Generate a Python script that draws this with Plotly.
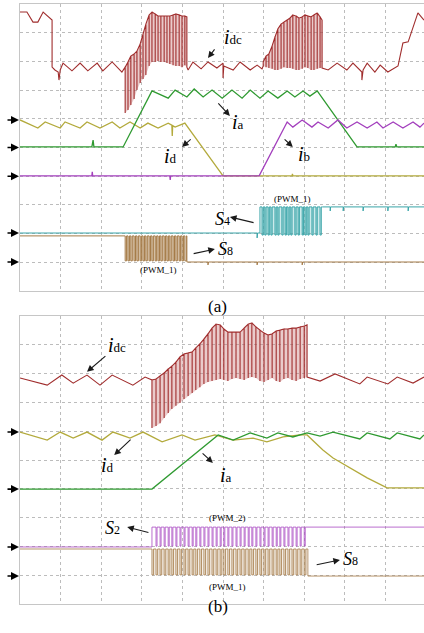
import plotly.graph_objects as go

SERIF = "Liberation Serif"
GRID = "#bcbcbc"
FRAME = "#c6c6c6"
C_DC = "#a02d2d"
C_DC_FILL = "rgba(200,118,118,0.38)"
C_A = "#2f9a31"
C_D = "#b3aa3c"
C_B = "#a33fbd"
C_S4 = "#38a4a8"
C_S4_FILL = "rgba(90,185,188,0.30)"
C_S8 = "#a47a46"
C_S8_FILL = "rgba(180,140,90,0.30)"
C_S8_FILL_B = "rgba(190,155,110,0.18)"
C_S2 = "#a848c2"

# all values in scope divisions (10 x 10 graticule)

# ---------------- panel (a) ----------------
idc_a_x0 = [0.00, 0.17, 0.32, 0.44, 0.57, 0.74, 0.79, 0.79, 0.86, 0.94, 0.96, 0.99, 1.06, 1.28, 1.48, 1.67, 1.90, 2.04, 2.27, 2.51, 2.56]
idc_a_y0 = [9.72, 9.72, 9.37, 9.37, 9.72, 9.51, 9.44, 7.80, 7.70, 7.63, 7.35, 7.70, 7.94, 7.67, 7.94, 7.67, 7.94, 7.67, 7.98, 7.63, 7.74]
burst1_t = [2.59, 2.66, 2.73, 2.81, 2.88, 2.96, 3.03, 3.10, 3.18, 3.25, 3.33, 3.40, 3.47, 3.55, 3.62, 3.69, 3.77, 3.84, 3.92, 3.99, 4.06, 4.11]
burst1_top = [7.80, 7.98, 8.19, 8.26, 8.36, 8.61, 8.95, 9.30, 9.62, 9.72, 9.65, 9.58, 9.58, 9.58, 9.58, 9.58, 9.62, 9.65, 9.62, 9.58, 9.58, 9.55]
burst1_bot = [6.20, 6.31, 6.48, 6.69, 7.00, 7.25, 7.39, 7.53, 7.84, 7.98, 7.98, 8.01, 7.98, 7.98, 7.94, 7.91, 7.87, 7.84, 7.84, 7.80, 7.87, 7.80]
idc_a_x1 = [4.11, 4.14, 4.26, 4.46, 4.63, 4.85, 5.00, 5.00, 5.02, 5.25, 5.42, 5.67, 5.84, 5.96, 5.99]
idc_a_y1 = [7.80, 7.70, 7.98, 7.74, 7.98, 7.77, 7.94, 7.42, 7.84, 7.70, 7.98, 7.70, 7.87, 7.74, 7.84]
burst2_t = [5.99, 6.06, 6.13, 6.21, 6.28, 6.35, 6.43, 6.50, 6.58, 6.65, 6.72, 6.80, 6.87, 6.95, 7.02, 7.09, 7.17, 7.24, 7.32, 7.39, 7.44]
burst2_top = [7.98, 8.19, 8.26, 8.54, 8.85, 9.13, 9.30, 9.37, 9.44, 9.51, 9.62, 9.58, 9.51, 9.55, 9.62, 9.58, 9.55, 9.62, 9.69, 9.55, 9.44]
burst2_bot = [7.84, 7.80, 7.77, 7.74, 7.70, 7.70, 7.74, 7.80, 7.77, 7.77, 7.74, 7.70, 7.70, 7.74, 7.80, 7.77, 7.70, 7.70, 7.74, 7.77, 7.77]
idc_a_x2 = [7.44, 7.59, 7.81, 8.05, 8.20, 8.42, 8.42, 8.45, 8.55, 8.74, 8.87, 9.06, 9.24, 9.31, 9.43, 9.56, 9.80, 9.95]
idc_a_y2 = [7.77, 7.70, 7.94, 7.70, 7.94, 7.63, 7.35, 7.70, 7.94, 7.63, 7.87, 7.63, 7.80, 7.84, 8.64, 8.68, 9.69, 9.44]

ia_a_x = [0.00, 1.77, 1.80, 1.82, 2.54, 3.25, 3.65, 3.82, 4.11, 4.29, 4.51, 4.73, 4.98, 5.22, 5.47, 5.67, 5.91, 6.11, 6.35, 6.58, 6.77, 6.97, 7.14, 7.32, 8.30, 9.24, 9.26, 9.28, 9.95]
ia_a_y = [5.02, 5.02, 5.26, 5.02, 5.02, 6.97, 6.72, 7.00, 6.76, 7.04, 6.76, 7.00, 6.72, 7.00, 6.72, 7.00, 6.72, 6.97, 6.72, 6.97, 6.76, 6.97, 6.79, 6.97, 5.02, 5.02, 5.12, 5.02, 5.02]

id_a_x = [0.00, 0.44, 0.62, 0.99, 1.11, 1.48, 1.65, 1.97, 2.27, 2.46, 2.71, 2.96, 3.15, 3.40, 3.65, 3.74, 3.75, 3.76, 3.82, 4.06, 5.00, 6.70, 6.71, 6.72, 9.95]
id_a_y = [5.96, 5.68, 5.89, 5.68, 5.89, 5.68, 5.89, 5.68, 5.89, 5.68, 5.89, 5.68, 5.85, 5.68, 5.85, 5.78, 5.40, 5.76, 5.71, 5.85, 4.01, 4.01, 4.08, 4.01, 4.01]

ib_a_x = [0.00, 1.77, 1.78, 1.79, 3.69, 3.70, 3.71, 5.89, 6.58, 6.72, 6.95, 7.19, 7.34, 7.59, 7.83, 8.05, 8.30, 8.55, 8.79, 8.94, 9.19, 9.43, 9.68, 9.85, 9.95]
ib_a_y = [4.01, 4.01, 4.15, 4.01, 4.01, 3.87, 4.01, 4.01, 5.89, 5.71, 5.96, 5.71, 5.89, 5.68, 5.96, 5.68, 5.89, 5.68, 5.89, 5.68, 5.89, 5.68, 5.89, 5.71, 5.85]

s4_a_pre_x = [0.00, 5.84, 5.84, 5.85, 5.91, 5.91]
s4_a_pre_y = [2.02, 2.02, 1.85, 2.02, 2.02, 2.93]
s4_a_t = [5.96, 6.03, 6.11, 6.18, 6.28, 6.35, 6.45, 6.53, 6.60, 6.67, 6.77, 6.85, 6.95, 7.02, 7.09, 7.19, 7.29, 7.39]
s4_a_hi, s4_a_lo = 2.93, 1.95
s4_a_post_x = [7.45, 7.64, 7.64, 7.65, 7.96, 7.96, 7.97, 8.45, 8.45, 8.46, 9.06, 9.06, 9.07, 9.56, 9.56, 9.57, 9.95]
s4_a_post_y = [2.93, 2.93, 2.79, 2.93, 2.93, 2.79, 2.93, 2.93, 2.79, 2.93, 2.93, 2.79, 2.93, 2.93, 2.79, 2.93, 2.93]

s8_a_pre_x = [0.00, 2.59]
s8_a_pre_y = [1.92, 1.92]
s8_a_t = [2.59, 2.66, 2.73, 2.81, 2.88, 2.96, 3.03, 3.10, 3.18, 3.25, 3.33, 3.40, 3.47, 3.55, 3.62, 3.69, 3.77, 3.84, 3.92, 3.99, 4.06]
s8_a_hi, s8_a_lo = 1.92, 1.05
s8_a_post_x = [4.11, 4.11, 4.63, 4.63, 4.64, 5.84, 5.84, 5.85, 6.95, 6.95, 6.96, 9.95]
s8_a_post_y = [1.92, 1.01, 1.01, 0.91, 1.01, 1.01, 0.91, 1.01, 1.01, 0.91, 1.01, 1.01]

levels_a = [5.96, 5.00, 4.00, 2.02, 1.01]

# ---------------- panel (b) ----------------
idc_b_x0 = [0.00, 0.67, 1.03, 1.31, 1.65, 1.97, 2.27, 2.78, 3.08, 3.25]
idc_b_y0 = [7.85, 7.60, 7.95, 7.67, 7.95, 7.60, 7.95, 7.60, 7.88, 7.78]
burst_b_t = [3.25, 3.35, 3.45, 3.55, 3.65, 3.74, 3.84, 3.94, 4.04, 4.14, 4.24, 4.33, 4.43, 4.53, 4.63, 4.73, 4.83, 4.93, 5.02, 5.12,
             5.22, 5.32, 5.42, 5.52, 5.62, 5.71, 5.81, 5.91, 6.01, 6.11, 6.21, 6.31, 6.40, 6.50, 6.60, 6.70, 6.80, 6.90, 7.00, 7.07]
burst_b_top = [7.78, 7.81, 7.92, 8.02, 8.16, 8.26, 8.40, 8.58, 8.68, 8.72, 8.75, 8.89, 9.03, 9.20, 9.38, 9.58, 9.72, 9.69, 9.55, 9.44,
               9.44, 9.44, 9.44, 9.58, 9.72, 9.76, 9.62, 9.51, 9.41, 9.34, 9.38, 9.48, 9.51, 9.55, 9.55, 9.58, 9.58, 9.62, 9.65, 9.69]
burst_b_bot = [6.11, 6.18, 6.28, 6.46, 6.63, 6.77, 6.88, 6.98, 7.12, 7.22, 7.33, 7.43, 7.53, 7.64, 7.71, 7.74, 7.78, 7.81, 7.78, 7.74,
               7.81, 7.85, 7.81, 7.78, 7.85, 7.88, 7.85, 7.74, 7.71, 7.78, 7.85, 7.74, 7.71, 7.81, 7.85, 7.78, 7.74, 7.81, 7.85, 7.88]
idc_b_x1 = [7.07, 7.39, 7.76, 8.37, 8.55, 9.06, 9.29, 9.68, 9.95]
idc_b_y1 = [7.88, 7.74, 7.99, 7.64, 7.88, 7.64, 7.88, 7.67, 7.88]

id_b_x = [0.00, 0.67, 0.99, 1.31, 1.65, 2.02, 2.29, 2.71, 3.03, 3.50, 3.99, 4.31, 4.80, 5.25, 5.74, 6.08, 6.48, 6.90, 7.07, 7.46, 7.71, 8.13, 8.55, 9.04, 9.95]
id_b_y = [5.97, 5.69, 5.97, 5.76, 5.97, 5.69, 5.97, 5.76, 5.97, 5.63, 5.87, 5.69, 5.87, 5.69, 5.76, 5.63, 5.80, 5.87, 5.87, 5.35, 5.07, 4.72, 4.38, 4.03, 4.03]

ia_b_x = [0.00, 3.25, 4.88, 5.25, 5.67, 6.08, 6.35, 6.72, 7.07, 7.39, 7.71, 8.37, 8.55, 9.11, 9.29, 9.85, 9.95]
ia_b_y = [3.99, 3.99, 5.87, 5.69, 5.94, 5.76, 5.94, 5.80, 5.94, 5.83, 5.97, 5.73, 5.94, 5.73, 5.94, 5.73, 5.87]

s2_b_pre_x = [0.00, 3.25, 3.25]
s2_b_pre_y = [1.98, 1.98, 2.67]
s2_b_hi, s2_b_lo = 2.67, 2.01
s2_b_post_x = [7.09, 9.95]
s2_b_post_y = [2.67, 2.67]

s8_b_pre_x = [0.00, 3.25]
s8_b_pre_y = [1.91, 1.91]
s8_b_hi, s8_b_lo = 1.91, 1.01
s8_b_post_x = [7.09, 7.09, 9.95]
s8_b_post_y = [1.91, 0.97, 0.97]

levels_b = [5.97, 3.99, 1.98, 0.97]


def spikes(ts, tops, bots):
    """Chopped waveform: one vertical stroke per switching event."""
    xs, ys = [], []
    for t, hi, lo in zip(ts, tops, bots):
        xs += [t, t, t]
        ys += [hi, lo, hi]
    return xs, ys


def pwm(ts, hi, lo, width):
    """Gate signal: short low pulses starting at each switching instant."""
    xs, ys = [], []
    for t in ts:
        xs += [t, t, t + width, t + width]
        ys += [hi, lo, lo, hi]
    return xs, ys


def band(ts, tops, bots):
    return list(ts) + list(ts)[::-1], list(tops) + list(bots)[::-1]


fig = go.Figure()


def line(x, y, color, xa, ya, width=1.3):
    fig.add_trace(go.Scatter(x=x, y=y, mode="lines", xaxis=xa, yaxis=ya,
                             line=dict(color=color, width=width), hoverinfo="skip",
                             showlegend=False))


def fill(x, y, color, xa, ya):
    fig.add_trace(go.Scatter(x=x, y=y, mode="lines", fill="toself", fillcolor=color,
                             line=dict(width=0), xaxis=xa, yaxis=ya, hoverinfo="skip",
                             showlegend=False))


# ---- panel (a) traces ----
bx, by = band(burst1_t, burst1_top, burst1_bot)
fill(bx, by, C_DC_FILL, "x", "y")
bx, by = band(burst2_t, burst2_top, burst2_bot)
fill(bx, by, C_DC_FILL, "x", "y")
fill([s4_a_t[0], s4_a_t[-1], s4_a_t[-1], s4_a_t[0]], [s4_a_hi, s4_a_hi, s4_a_lo, s4_a_lo], C_S4_FILL, "x", "y")
fill([s8_a_t[0], s8_a_t[-1], s8_a_t[-1], s8_a_t[0]], [s8_a_hi, s8_a_hi, s8_a_lo, s8_a_lo], C_S8_FILL, "x", "y")

p1x, p1y = spikes(burst1_t, burst1_top, burst1_bot)
p2x, p2y = spikes(burst2_t, burst2_top, burst2_bot)
line(idc_a_x0 + p1x + idc_a_x1 + p2x + idc_a_x2,
     idc_a_y0 + p1y + idc_a_y1 + p2y + idc_a_y2, C_DC, "x", "y", 1.1)

px_, py_ = pwm(s8_a_t, s8_a_hi, s8_a_lo, 0.035)
line(s8_a_pre_x + px_ + s8_a_post_x, s8_a_pre_y + py_ + s8_a_post_y, C_S8, "x", "y", 1.0)
px_, py_ = pwm(s4_a_t, s4_a_hi, s4_a_lo, 0.03)
line(s4_a_pre_x + px_ + s4_a_post_x, s4_a_pre_y + py_ + s4_a_post_y, C_S4, "x", "y", 1.0)

line(id_a_x, id_a_y, C_D, "x", "y")
line(ia_a_x, ia_a_y, C_A, "x", "y")
line(ib_a_x, ib_a_y, C_B, "x", "y")

# ---- panel (b) traces ----
bx, by = band(burst_b_t, burst_b_top, burst_b_bot)
fill(bx, by, C_DC_FILL, "x2", "y2")
fill([burst_b_t[0], burst_b_t[-1], burst_b_t[-1], burst_b_t[0]], [s8_b_hi, s8_b_hi, s8_b_lo, s8_b_lo], C_S8_FILL_B, "x2", "y2")

pbx, pby = spikes(burst_b_t, burst_b_top, burst_b_bot)
line(idc_b_x0 + pbx + idc_b_x1, idc_b_y0 + pby + idc_b_y1, C_DC, "x2", "y2", 1.1)

px_, py_ = pwm(burst_b_t[:-1], s8_b_hi, s8_b_lo, 0.04)
line(s8_b_pre_x + px_ + s8_b_post_x, s8_b_pre_y + py_ + s8_b_post_y, C_S8, "x2", "y2", 0.8)
px_, py_ = pwm(burst_b_t[1:-1], s2_b_hi, s2_b_lo, 0.025)
line(s2_b_pre_x + px_ + s2_b_post_x, s2_b_pre_y + py_ + s2_b_post_y, C_S2, "x2", "y2", 0.8)

line(id_b_x, id_b_y, C_D, "x2", "y2")
line(ia_b_x, ia_b_y, C_A, "x2", "y2")

# ---- annotations ----
ann = []


def label(text, x, y, xr, yr, size=20):
    ann.append(dict(x=x, y=y, xref=xr, yref=yr, text=text, showarrow=False,
                    font=dict(family=SERIF, size=size, color="black")))


def pointer(x, y, ax, ay, xr, yr):
    ann.append(dict(x=x, y=y, ax=ax, ay=ay, xref=xr, yref=yr, axref=xr, ayref=yr,
                    text="", showarrow=True, arrowhead=2, arrowsize=1.2,
                    arrowwidth=1.1, arrowcolor="#1a1a1a"))


def cur(sub):
    return "<i>i</i><span style='font-size:13px'>%s</span>" % sub


def sw(sub):
    return "<i>S</i><span style='font-size:12px'>%s</span>" % sub


PWM_FONT = 9

# panel (a)
label(cur("dc"), 5.24, 8.85, "x", "y")
pointer(4.63, 8.12, 4.82, 8.47, "x", "y")
label(cur("a"), 5.36, 5.90, "x", "y")
pointer(5.17, 6.10, 4.85, 6.59, "x", "y")
label(cur("d"), 3.71, 4.72, "x", "y")
pointer(3.99, 5.02, 4.24, 5.33, "x", "y")
label(cur("b"), 6.99, 4.79, "x", "y")
pointer(6.72, 5.02, 6.48, 5.33, "x", "y")
label(sw("4"), 4.98, 2.51, "x", "y", 18)
pointer(5.17, 2.58, 5.79, 2.37, "x", "y")
label("(PWM_1)", 6.72, 3.21, "x", "y", PWM_FONT)
label(sw("8"), 5.07, 1.46, "x", "y", 18)
pointer(4.80, 1.46, 4.24, 1.29, "x", "y")
label("(PWM_1)", 3.40, 0.73, "x", "y", PWM_FONT)

# panel (b)
label(cur("dc"), 2.38, 8.99, "x2", "y2")
pointer(1.65, 8.06, 2.14, 8.65, "x2", "y2")
label(cur("d"), 2.16, 4.83, "x2", "y2")
pointer(2.32, 5.17, 2.76, 5.76, "x2", "y2")
label(cur("a"), 5.07, 4.48, "x2", "y2")
pointer(4.75, 4.90, 4.46, 5.28, "x2", "y2")
label(sw("2"), 2.27, 2.64, "x2", "y2", 18)
pointer(2.64, 2.67, 3.20, 2.47, "x2", "y2")
label("(PWM_2)", 5.10, 2.99, "x2", "y2", PWM_FONT)
label(sw("8"), 8.15, 1.56, "x2", "y2", 18)
pointer(7.88, 1.53, 7.27, 1.35, "x2", "y2")
label("(PWM_1)", 5.10, 0.59, "x2", "y2", PWM_FONT)

# channel ground markers
for lv in levels_a:
    ann.append(dict(x=19 / 424, xref="paper", y=lv, yref="y", ax=-13, ay=0, text="",
                    showarrow=True, arrowhead=2, arrowsize=1, arrowwidth=1.6, arrowcolor="black"))
for lv in levels_b:
    ann.append(dict(x=19 / 424, xref="paper", y=lv, yref="y2", ax=-13, ay=0, text="",
                    showarrow=True, arrowhead=2, arrowsize=1, arrowwidth=1.6, arrowcolor="black"))

# sub-figure captions
ann.append(dict(x=217 / 424, y=1 - 307 / 633, xref="paper", yref="paper", text="(a)", showarrow=False,
                font=dict(family=SERIF, size=17, color="black")))
ann.append(dict(x=218 / 424, y=1 - 618 / 633, xref="paper", yref="paper", text="(b)", showarrow=False,
                font=dict(family=SERIF, size=17, color="black")))

ax_common = dict(showgrid=True, gridcolor=GRID, griddash="dot", gridwidth=1, zeroline=False,
                 showticklabels=False, ticks="", showline=True, linecolor=FRAME, linewidth=1,
                 fixedrange=True)
x_dom = [20 / 424, 1.0]
fig.update_layout(
    width=424, height=633, margin=dict(l=0, r=0, t=0, b=0),
    paper_bgcolor="white", plot_bgcolor="white", showlegend=False,
    xaxis=dict(domain=x_dom, range=[0, 9.95], dtick=1, tick0=0, mirror=True, anchor="y", **ax_common),
    yaxis=dict(domain=[1 - 291 / 633, 1 - 4 / 633], range=[0, 10], dtick=1, tick0=0, anchor="x", **ax_common),
    xaxis2=dict(domain=x_dom, range=[0, 9.95], dtick=1, tick0=0, mirror=True, anchor="y2", **ax_common),
    yaxis2=dict(domain=[1 - 604 / 633, 1 - 316 / 633], range=[0, 10], dtick=1, tick0=0, anchor="x2", **ax_common),
    annotations=ann,
)

fig.write_html("out.html")
